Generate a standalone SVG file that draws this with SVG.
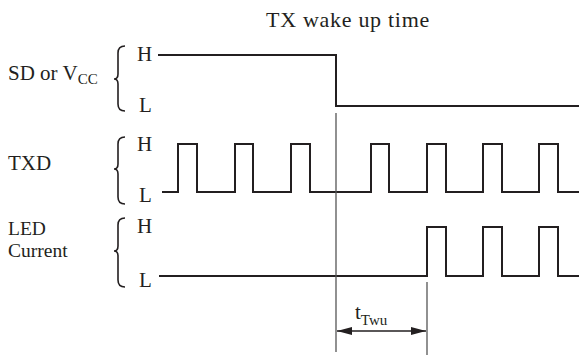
<svg xmlns="http://www.w3.org/2000/svg" width="579" height="356" viewBox="0 0 579 356">
<style>
text { font-family: 'Liberation Serif', 'Times New Roman', serif; font-size: 21px; fill: #231f20; }
.sub { font-size: 15px; }
.title { font-size: 22px; letter-spacing: 0.7px; }
.two { font-size: 19.5px; }
.wave { fill: none; stroke: #231f20; stroke-width: 2; stroke-linejoin: miter; }
.brace { fill: none; stroke: #231f20; stroke-width: 1.6; }
.guide { fill: none; stroke: #555; stroke-width: 1.3; }
.dim { fill: none; stroke: #231f20; stroke-width: 1.5; }
</style>
<defs>
<marker id="ah" viewBox="0 0 15 8" refX="15" refY="4" markerWidth="15" markerHeight="8" markerUnits="userSpaceOnUse" orient="auto-start-reverse">
<path d="M0,0 L15,4 L0,8 Z" fill="#231f20"/>
</marker>
</defs>
<rect width="579" height="356" fill="#fff"/>
<text class="title" x="348" y="27" text-anchor="middle">TX wake up time</text>

<g id="sd">
<text x="8" y="80">SD or V<tspan class="sub" dy="4">CC</tspan></text>
<path class="brace" d="M125,46 Q118,46 118,53 V74 Q118,79 114,79 Q118,79 118,84 V104 Q118,111 125,111"/>
<text x="137" y="61">H</text>
<text x="139" y="112">L</text>
<path class="wave" d="M158,55 H336 V106 H579"/>
</g>

<g id="txd">
<text x="8" y="170">TXD</text>
<path class="brace" d="M125,137 Q118,137 118,144 V164 Q118,169 114,169 Q118,169 118,174 V197 Q118,204 125,204"/>
<text x="137" y="151">H</text>
<text x="139" y="202">L</text>
<path class="wave" d="M162,192 H178 V144 H197 V192 H235 V144 H253 V192 H291 V144 H310 V192 H371 V144 H389 V192 H427 V144 H446 V192 H483 V144 H502 V192 H539 V144 H558 V192 H579"/>
</g>

<g id="led">
<text class="two" x="8" y="235">LED</text>
<text class="two" x="8" y="257">Current</text>
<path class="brace" d="M125,218 Q118,218 118,225 V246 Q118,251 114,251 Q118,251 118,256 V280 Q118,287 125,287"/>
<text x="137" y="233">H</text>
<text x="139" y="287">L</text>
<path class="wave" d="M159,276 H427 V227 H446 V276 H483 V227 H502 V276 H539 V227 H558 V276 H579"/>
</g>

<g id="connectors">
<line class="guide" x1="336" y1="113" x2="336" y2="352"/>
<line class="guide" x1="427" y1="282" x2="427" y2="355"/>
<line class="dim" x1="337" y1="331" x2="426" y2="331" marker-start="url(#ah)" marker-end="url(#ah)"/>
</g>
<text x="355" y="319">t<tspan class="sub" dy="6">Twu</tspan></text>
</svg>
